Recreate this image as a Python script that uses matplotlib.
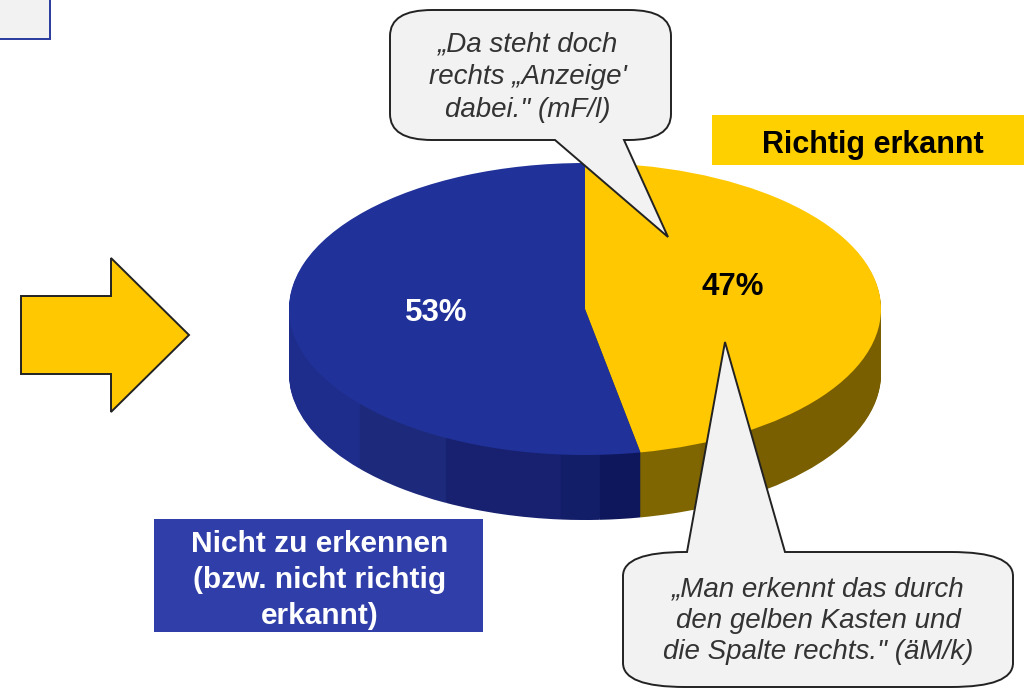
import matplotlib.pyplot as plt
from matplotlib.patches import PathPatch, Polygon, Rectangle
from matplotlib.path import Path

plt.rcParams['font.family'] = ['Liberation Sans', 'DejaVu Sans']

# Share of answers (percent), clockwise from the top
shares = [47, 53]
top_colors = ['#ffc800', '#20329a']
share_colors = ['black', 'white']
share_pos = [(733, 287), (436, 313)]

# The side wall has the same split, cut into shaded bands
side_shares = [43.6, 3.4, 2.2, 2.1, 6.5, 6.0, 36.2]
side_colors = ['#7a5f00', '#806600', '#0e175c', '#131e69', '#17216f', '#1d2a7c', '#1e2d8c']

legend_yes = 'Richtig erkannt'
legend_no = 'Nicht zu erkennen\n(bzw. nicht richtig\nerkannt)'
quote_top = '„Da steht doch\nrechts „Anzeige\'\ndabei." (mF/l)'
quote_bottom = '„Man erkennt das durch\nden gelben Kasten und\ndie Spalte rechts." (äM/k)'

# Pie geometry in pixels
cx, cy = 585, 309
rx, ry = 296, 146
depth = 65

fig = plt.figure(figsize=(10.24, 6.88), dpi=100)

ax_pie = fig.add_axes([0, 0, 1, 1])
for d in range(depth, 0, -1):
    ax_pie.pie(side_shares, colors=side_colors, startangle=90, counterclock=False,
               center=(0, -d / ry), wedgeprops=dict(linewidth=0))
ax_pie.pie(shares, colors=top_colors, startangle=90, counterclock=False,
           wedgeprops=dict(linewidth=0))
ax_pie.set_aspect('auto')
ax_pie.set_xlim(-cx / rx, (1024 - cx) / rx)
ax_pie.set_ylim((cy - 688) / ry, cy / ry)

# Everything else is placed in pixel coordinates
ax = fig.add_axes([0, 0, 1, 1])
ax.set_xlim(0, 1024)
ax.set_ylim(688, 0)
ax.axis('off')
ax.patch.set_visible(False)


def callout(x0, y0, x1, y1, hr, vr, tail):
    # rounded box with a pointed tail on one long side
    (ta, tip, tb) = tail
    top_side = tip[1] > y1
    verts = [(x0 + hr, y0)]
    codes = [Path.MOVETO]
    if not top_side:
        verts += [ta, tip, tb]
        codes += [Path.LINETO] * 3
    verts += [(x1 - hr, y0), (x1, y0), (x1, y0 + vr), (x1, y1 - vr), (x1, y1), (x1 - hr, y1)]
    codes += [Path.LINETO, Path.CURVE3, Path.CURVE3, Path.LINETO, Path.CURVE3, Path.CURVE3]
    if top_side:
        verts += [tb, tip, ta]
        codes += [Path.LINETO] * 3
    verts += [(x0 + hr, y1), (x0, y1), (x0, y1 - vr), (x0, y0 + vr), (x0, y0), (x0 + hr, y0)]
    codes += [Path.LINETO, Path.CURVE3, Path.CURVE3, Path.LINETO, Path.CURVE3, Path.CURVE3]
    ax.add_patch(PathPatch(Path(verts, codes), facecolor='#f2f2f2', edgecolor='#222222',
                           linewidth=1.4, joinstyle='miter'))


# Percent labels
for s, c, (x, y) in zip(shares, share_colors, share_pos):
    ax.text(x, y, f'{s}%', color=c, fontsize=22.5, fontweight='bold', ha='center', va='center')

# Legend boxes
ax.add_patch(Rectangle((712, 115), 312, 50, facecolor='#ffd000', edgecolor='none'))
ax.text(873, 145, legend_yes, color='black', fontsize=22, fontweight='bold', ha='center', va='center')
ax.add_patch(Rectangle((154, 519), 329, 113, facecolor='#2f3ea8', edgecolor='none'))
ax.text(320, 580, legend_no, color='white', fontsize=21.5, fontweight='bold', ha='center', va='center',
        linespacing=1.38)

# Speech bubbles
callout(390, 10, 671, 140, 42, 26, [(555, 140), (668, 237), (624, 140)])
ax.text(528, 77, quote_top, color='#333333', fontsize=20, style='italic', ha='center', va='center',
        linespacing=1.33)
callout(623, 552, 1013, 687, 62, 24, [(687, 552), (725, 342), (785, 552)])
ax.text(818, 621, quote_bottom, color='#333333', fontsize=20, style='italic', ha='center', va='center',
        linespacing=1.27)

# Arrow and the cut-off box in the corner
ax.add_patch(Polygon([(21, 296), (111, 296), (111, 258), (189, 335), (111, 412), (111, 374), (21, 374)],
                     closed=True, facecolor='#ffc800', edgecolor='#222222', linewidth=1.4))
ax.add_patch(Rectangle((-5, -5), 55, 44, facecolor='#f2f2f2', edgecolor='#2a3a9e', linewidth=1.4))

plt.savefig('out.png', dpi=100)
